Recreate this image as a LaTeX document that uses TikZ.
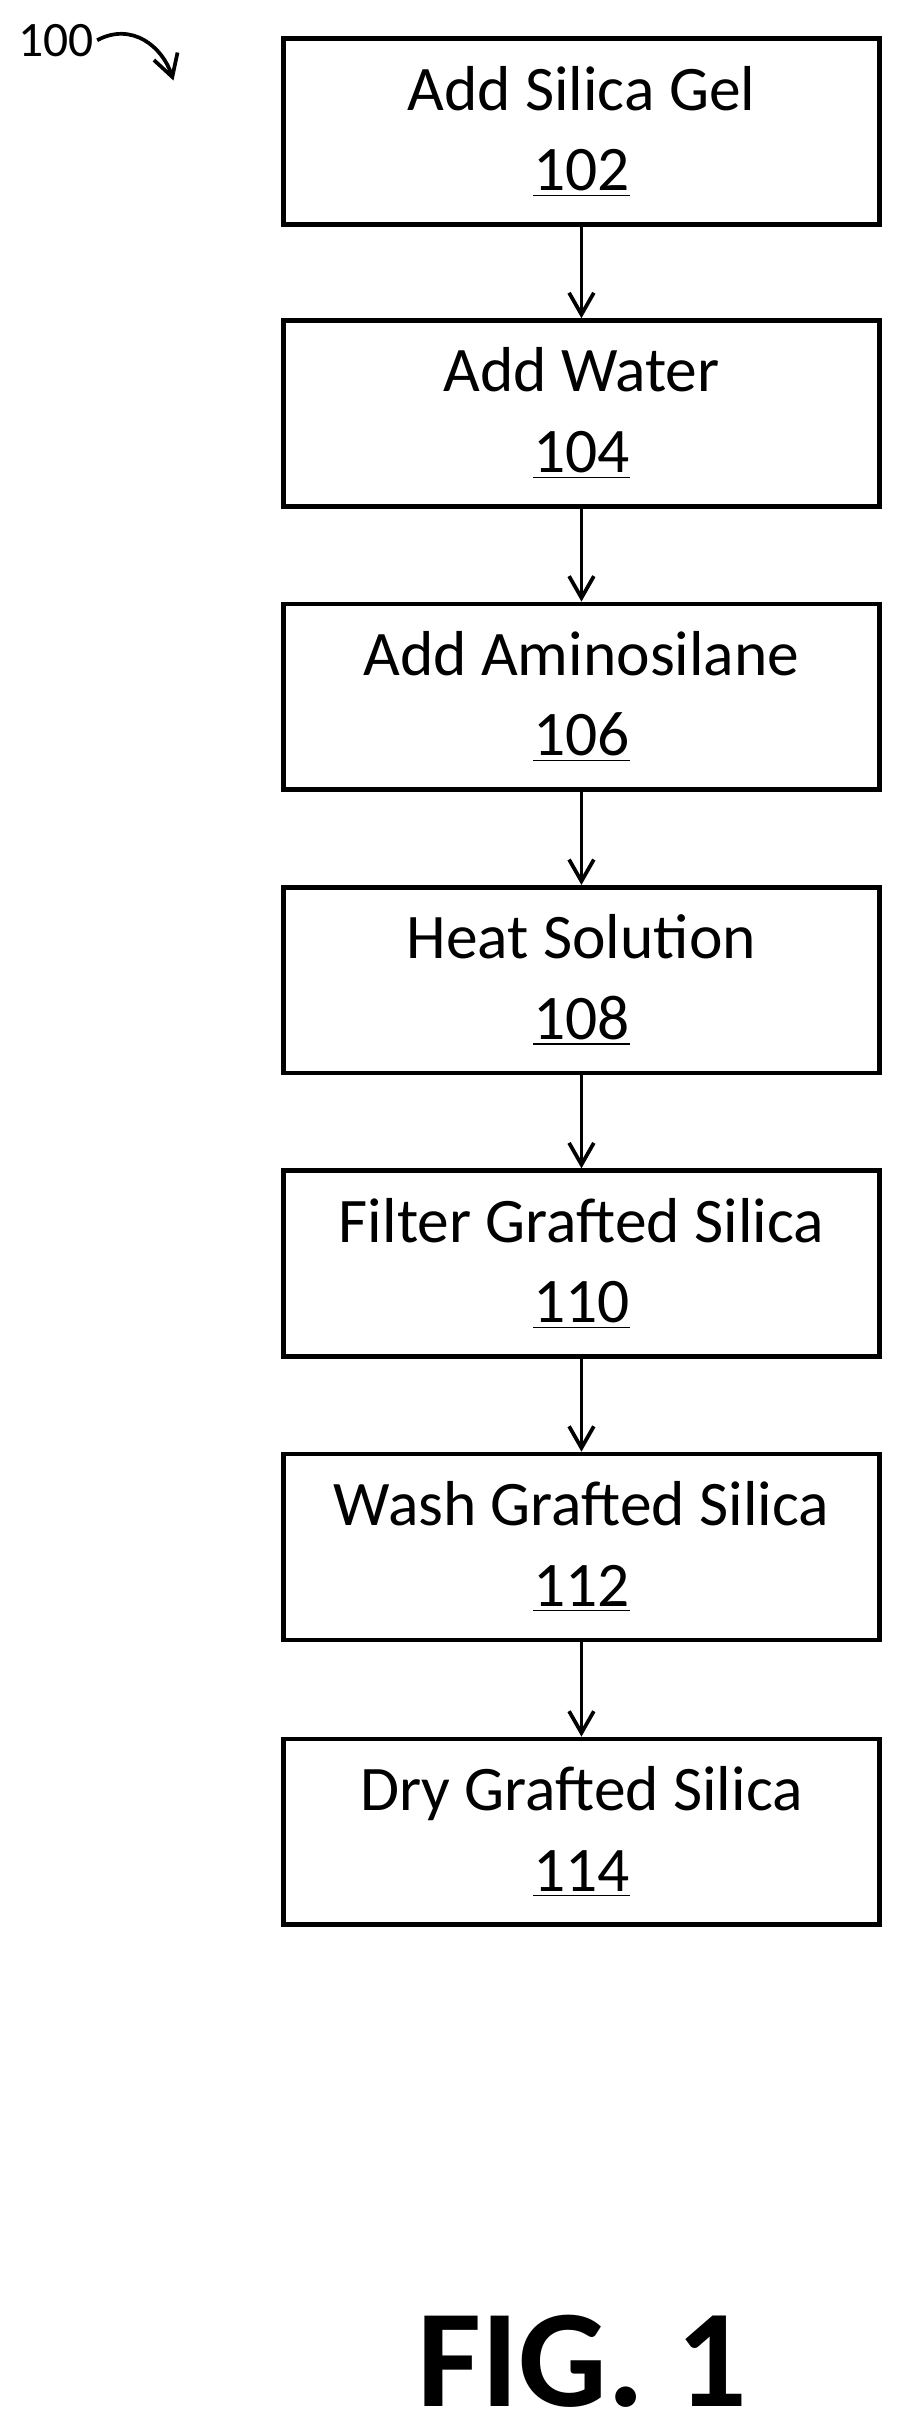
\documentclass[tikz,border=0pt]{standalone}
\usepackage{fontspec}
\setmainfont{Carlito}
\usetikzlibrary{positioning,arrows.meta}

\tikzset{
  stepbox/.style={draw, line width=1.5pt, minimum width=192.5pt, minimum height=60pt,
    align=center, font=\fontsize{20.5}{26}\selectfont, inner sep=0pt},
  flow/.style={-{Straight Barb[length=7pt,width=8pt]}, line width=1.2pt}
}

\begin{document}
\begin{tikzpicture}[x=0.5pt, y=-0.5pt]
\useasboundingbox (0,0) rectangle (585,1568);

% Process steps
\node[stepbox] (s102) at (375.5,85) {Add Silica Gel\\\underline{102}};
\node[stepbox] (s104) at (375.5,267) {Add Water\\\underline{104}};
\node[stepbox] (s106) at (375.5,450) {Add Aminosilane\\\underline{106}};
\node[stepbox] (s108) at (375.5,633) {Heat Solution\\\underline{108}};
\node[stepbox] (s110) at (375.5,816) {Filter Grafted Silica\\\underline{110}};
\node[stepbox] (s112) at (375.5,999) {Wash Grafted Silica\\\underline{112}};
\node[stepbox] (s114) at (375.5,1183) {Dry Grafted Silica\\\underline{114}};

% Connections
\foreach \from/\to in {s102/s104, s104/s106, s106/s108, s108/s110, s110/s112, s112/s114}
    \draw[flow] (\from) -- (\to);

% Reference label
\node[font=\fontsize{16}{18}\selectfont, inner sep=1pt] (lbl) at (36,26) {100};
\coordinate (tip) at (112,52);
\draw[flow, line width=1.2pt] (lbl.east) .. controls (85,14) and (105,30) .. (tip);

% Figure title
\node[font=\bfseries\fontsize{45}{50}\selectfont] (fig) at (376,1525) {FIG. 1};

\end{tikzpicture}
\end{document}
